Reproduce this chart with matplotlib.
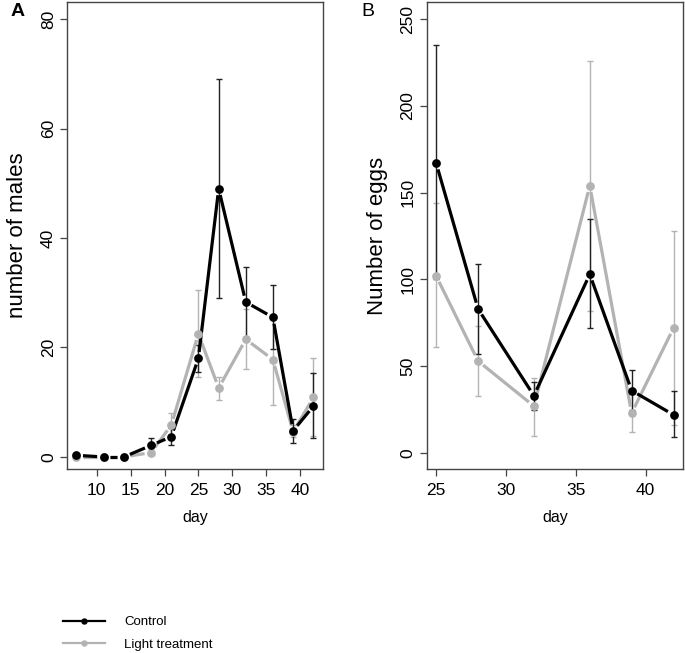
import matplotlib
matplotlib.use("Agg")
import matplotlib.pyplot as plt
import numpy as np

plt.rcParams['font.family'] = ['Liberation Sans', 'DejaVu Sans']

# panel A: number of males
days_a = [7, 11, 14, 18, 21, 25, 28, 32, 36, 39, 42]
males_ctrl = [0.3, 0.0, 0.0, 2.1, 3.7, 18.0, 49.0, 28.3, 25.5, 4.8, 9.3]
males_ctrl_lo = [0.0, 0.0, 0.0, 0.8, 2.2, 15.5, 29.0, 22.0, 19.7, 2.5, 3.5]
males_ctrl_hi = [0.6, 0.0, 0.0, 3.5, 5.3, 20.5, 69.0, 34.7, 31.4, 7.0, 15.4]
males_light = [0.0, 0.0, 0.0, 0.8, 5.8, 22.5, 12.6, 21.5, 17.8, 4.6, 10.9]
males_light_lo = [0.0, 0.0, 0.0, 0.3, 3.6, 14.6, 10.4, 16.0, 9.5, 3.6, 3.8]
males_light_hi = [0.0, 0.0, 0.0, 1.4, 8.0, 30.5, 14.6, 27.0, 26.0, 5.8, 18.0]

# panel B: number of eggs
days_b = [25, 28, 32, 36, 39, 42]
eggs_ctrl = [167, 83, 33, 103, 36, 22]
eggs_ctrl_lo = [100, 57, 25, 72, 25, 9]
eggs_ctrl_hi = [235, 109, 41, 135, 48, 36]
eggs_light = [102, 53, 27, 154, 23, 72]
eggs_light_lo = [61, 33, 10, 82, 12, 16]
eggs_light_hi = [144, 73, 43, 226, 34, 128]

CTRL = '#000000'
LIGHT = '#b3b3b3'
GAP = 6.5  # px, like R type="b"


def draw_series(ax, x, y, lo, hi, color, ecolor):
    yerr = [[v - l for v, l in zip(y, lo)], [h - v for v, h in zip(y, hi)]]
    ax.errorbar(x, y, yerr=yerr, fmt='none', ecolor=ecolor, elinewidth=1.0,
                capsize=2.5, capthick=1.0, zorder=2)
    # segments with a gap around each point
    pts = ax.transData.transform(np.column_stack([x, y]))
    inv = ax.transData.inverted()
    for p0, p1 in zip(pts[:-1], pts[1:]):
        d = p1 - p0
        n = np.hypot(*d)
        if n <= 2 * GAP:
            continue
        u = d / n
        seg = inv.transform([p0 + u * GAP, p1 - u * GAP])
        ax.plot(seg[:, 0], seg[:, 1], color=color, lw=2.3, zorder=3,
                solid_capstyle='butt')
    ax.plot(x, y, ls='none', marker='o', ms=6.3, color=color,
            markeredgewidth=0, zorder=4)
    line, = ax.plot([], [], color=color, marker='o')
    return line


def style_axes(ax):
    for s in ax.spines.values():
        s.set_color('#444444')
        s.set_linewidth(1.0)
    ax.tick_params(axis='both', direction='out', length=5, width=0.9,
                   color='#444444', labelsize=12.5)
    ax.tick_params(axis='x', pad=5)
    ax.tick_params(axis='y', pad=3)
    for lab in ax.get_yticklabels():
        lab.set_rotation(90)
        lab.set_va('center')


fig = plt.figure(figsize=(6.85, 6.53), dpi=100)
ax1 = fig.add_axes([0.0978, 0.2818, 0.3737, 0.715])
ax2 = fig.add_axes([0.6229, 0.2818, 0.3742, 0.715])

ax1.set_xlim(5.6, 43.4)
ax1.set_ylim(-2.2, 83.1)
ax2.set_xlim(24.32, 42.68)
ax2.set_ylim(-9.2, 259.8)

draw_series(ax1, days_a, males_light, males_light_lo, males_light_hi, LIGHT, LIGHT)
draw_series(ax1, days_a, males_ctrl, males_ctrl_lo, males_ctrl_hi, CTRL, '#222222')
ax1.set_xticks([10, 15, 20, 25, 30, 35, 40])
ax1.set_yticks([0, 20, 40, 60, 80])
ax1.set_xlabel('day', fontsize=11.5, labelpad=9)
ax1.set_ylabel('number of males', fontsize=16, labelpad=9)
style_axes(ax1)

l_light = draw_series(ax2, days_b, eggs_light, eggs_light_lo, eggs_light_hi, LIGHT, LIGHT)
l_ctrl = draw_series(ax2, days_b, eggs_ctrl, eggs_ctrl_lo, eggs_ctrl_hi, CTRL, '#222222')
ax2.set_xticks([25, 30, 35, 40])
ax2.set_yticks([0, 50, 100, 150, 200, 250])
ax2.set_xlabel('day', fontsize=11.5, labelpad=9)
ax2.set_ylabel('Number of eggs', fontsize=16, labelpad=9)
style_axes(ax2)

fig.text(0.015, 0.982, 'A', fontsize=14, fontweight='bold', va='center', ha='left')
fig.text(0.528, 0.982, 'B', fontsize=14, va='center', ha='left')

leg = fig.legend([l_ctrl, l_light], ['Control', 'Light treatment'],
                 loc='upper left', bbox_to_anchor=(0.0745, 0.075),
                 bbox_transform=fig.transFigure, frameon=False, fontsize=9.5,
                 handlelength=3.2, handletextpad=1.45, labelspacing=0.8,
                 markerscale=0.6)
for h in leg.legend_handles:
    h.set_linewidth(1.6)

fig.savefig('out.png', dpi=100)
